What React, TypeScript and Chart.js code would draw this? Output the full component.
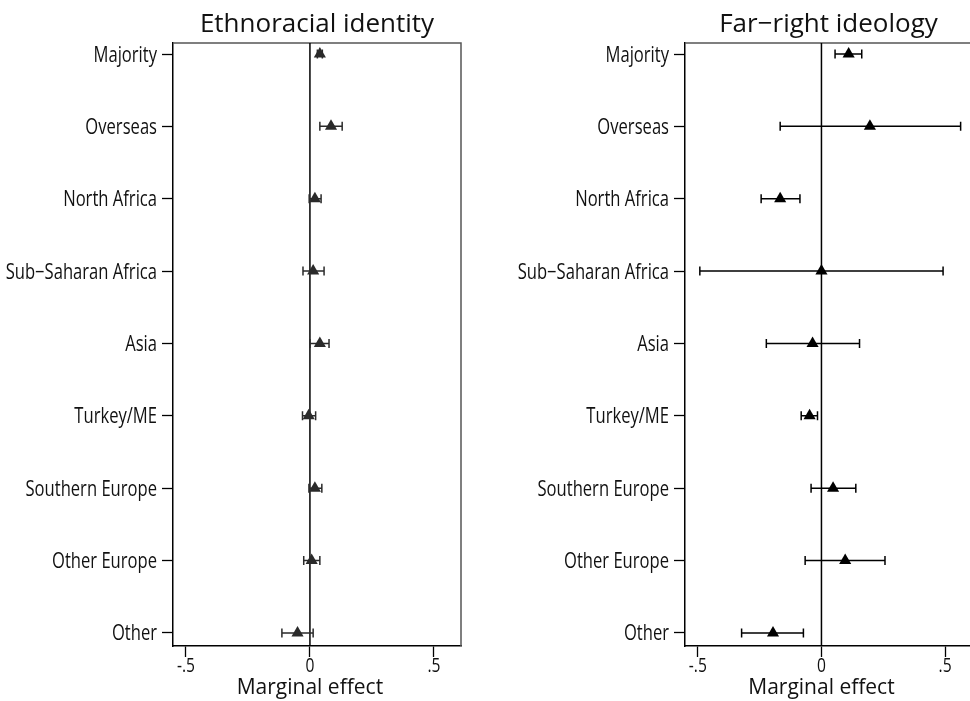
import React, { useEffect, useRef } from "react";
import { Chart, registerables } from "chart.js";

Chart.register(...registerables);

const categories = [
  "Majority",
  "Overseas",
  "North Africa",
  "Sub\u2212Saharan Africa",
  "Asia",
  "Turkey/ME",
  "Southern Europe",
  "Other Europe",
  "Other",
];

const xTickValues = [-0.5, 0, 0.5];
const xTickLabels = ["-.5", "0", ".5"];

// Ethnoracial identity
const ethEst = [0.04, 0.085, 0.02, 0.013, 0.04, -0.005, 0.02, 0.007, -0.05];
const ethLo = [0.03, 0.04, -0.003, -0.028, 0.0, -0.03, -0.004, -0.025, -0.113];
const ethHi = [0.05, 0.13, 0.045, 0.057, 0.077, 0.023, 0.048, 0.04, 0.013];

// Far-right ideology
const farEst = [0.11, 0.196, -0.167, 0.0, -0.036, -0.048, 0.047, 0.096, -0.196];
const farLo = [0.055, -0.167, -0.244, -0.492, -0.223, -0.082, -0.042, -0.066, -0.323];
const farHi = [0.163, 0.563, -0.087, 0.492, 0.154, -0.016, 0.139, 0.257, -0.073];

const X_MIN = -0.552;
const X_MAX = 0.609;
const Y_MIN = -0.152;
const Y_MAX = 8.18;

type PanelProps = {
  title: string;
  est: number[];
  lo: number[];
  hi: number[];
  color: string;
  left: number;
  width: number;
  plotLeft: number;
  plotRight: number;
};

function Panel({ title, est, lo, hi, color, left, width, plotLeft, plotRight }: PanelProps) {
  const ref = useRef<HTMLCanvasElement | null>(null);
  useEffect(() => {
    if (!ref.current) return;
    const H = 701;
    const plotTop = 43;
    const plotBottom = 646;
    const condensed = "'Open Sans', 'DejaVu Sans', sans-serif";

    const drawPlugin = {
      id: "panelDecor",
      beforeDatasetsDraw(chart: any) {
        const { ctx, chartArea, scales } = chart;
        const xs = scales.x;
        const ys = scales.y;
        ctx.save();
        // box top & right
        ctx.strokeStyle = "#555";
        ctx.lineWidth = 1.5;
        ctx.beginPath();
        ctx.moveTo(chartArea.left, chartArea.top);
        ctx.lineTo(chartArea.right, chartArea.top);
        ctx.lineTo(chartArea.right, chartArea.bottom);
        ctx.stroke();
        // zero line
        const x0 = xs.getPixelForValue(0);
        ctx.strokeStyle = "#000";
        ctx.lineWidth = 1.5;
        ctx.beginPath();
        ctx.moveTo(x0, chartArea.top);
        ctx.lineTo(x0, chartArea.bottom);
        ctx.stroke();
        // error bars
        ctx.strokeStyle = color;
        ctx.lineWidth = 1.5;
        for (let i = 0; i < est.length; i++) {
          const y = ys.getPixelForValue(i);
          const a = xs.getPixelForValue(lo[i]);
          const b = xs.getPixelForValue(hi[i]);
          ctx.beginPath();
          ctx.moveTo(a, y);
          ctx.lineTo(b, y);
          ctx.moveTo(a, y - 4.5);
          ctx.lineTo(a, y + 4.5);
          ctx.moveTo(b, y - 4.5);
          ctx.lineTo(b, y + 4.5);
          ctx.stroke();
        }
        ctx.restore();
      },
      afterDraw(chart: any) {
        const { ctx, chartArea, scales } = chart;
        const xs = scales.x;
        const ys = scales.y;
        ctx.save();
        ctx.fillStyle = "#111";
        // y labels (condensed)
        ctx.font = `21px ${condensed}`;
        ctx.textAlign = "right";
        ctx.textBaseline = "alphabetic";
        for (let i = 0; i < categories.length; i++) {
          const y = ys.getPixelForValue(i);
          ctx.save();
          ctx.translate(chartArea.left - 16, y + 7.5);
          ctx.scale(0.79, 1);
          ctx.fillText(categories[i], 0, 0);
          ctx.restore();
        }
        // x tick labels
        ctx.font = `20px ${condensed}`;
        ctx.textAlign = "center";
        for (let i = 0; i < xTickValues.length; i++) {
          const x = xs.getPixelForValue(xTickValues[i]);
          ctx.save();
          ctx.translate(x, 672);
          ctx.scale(0.78, 1);
          ctx.fillText(xTickLabels[i], 0, 0);
          ctx.restore();
        }
        // axis title
        ctx.font = `21px 'Open Sans', sans-serif`;
        ctx.textAlign = "center";
        ctx.fillText("Marginal effect", xs.getPixelForValue(0), 694);
        // title
        ctx.font = `26px 'Open Sans', sans-serif`;
        ctx.fillText(title, (chartArea.left + chartArea.right) / 2, 32);
        ctx.restore();
      },
    };

    const chart = new Chart(ref.current, {
      type: "scatter",
      data: {
        datasets: [
          {
            data: est.map((v, i) => ({ x: v, y: i })),
            pointStyle: "triangle",
            pointRadius: 7,
            pointHoverRadius: 7,
            backgroundColor: color,
            borderColor: color,
            borderWidth: 0,
          },
        ],
      },
      options: {
        responsive: false,
        animation: false,
        events: [],
        layout: { padding: { top: plotTop, right: width - plotRight, bottom: 0, left: 0 } },
        plugins: {
          legend: { display: false },
          tooltip: { enabled: false },
          title: { display: false },
        },
        scales: {
          x: {
            type: "linear",
            min: X_MIN,
            max: X_MAX,
            afterBuildTicks: (s: any) => {
              s.ticks = xTickValues.map((v) => ({ value: v }));
            },
            ticks: { display: false },
            grid: {
              drawOnChartArea: false,
              drawTicks: true,
              tickLength: 11,
              tickColor: "#000",
              tickWidth: 1.3,
            },
            border: { display: true, color: "#000", width: 1.5 },
            afterFit: (s: any) => {
              s.height = H - plotBottom;
            },
          },
          y: {
            type: "linear",
            reverse: true,
            min: Y_MIN,
            max: Y_MAX,
            afterBuildTicks: (s: any) => {
              s.ticks = categories.map((_, i) => ({ value: i }));
            },
            ticks: { display: false },
            grid: {
              drawOnChartArea: false,
              drawTicks: true,
              tickLength: 11,
              tickColor: "#000",
              tickWidth: 1.3,
            },
            border: { display: true, color: "#000", width: 1.5 },
            afterFit: (s: any) => {
              s.width = plotLeft;
            },
          },
        },
      } as any,
      plugins: [drawPlugin],
    });
    return () => chart.destroy();
  }, []);
  return (
    <canvas
      ref={ref}
      width={width}
      height={701}
      style={{ position: "absolute", left, top: 0, width, height: 701 }}
    />
  );
}

export default function App() {
  return (
    <div
      style={{
        position: "absolute",
        left: 0,
        top: 0,
        width: 970,
        height: 701,
        overflow: "hidden",
        background: "#fff",
      }}
    >
      <Panel
        title="Ethnoracial identity"
        est={ethEst}
        lo={ethLo}
        hi={ethHi}
        color="#2a2a2a"
        left={0}
        width={490}
        plotLeft={173}
        plotRight={461}
      />
      <Panel
        title={"Far\u2212right ideology"}
        est={farEst}
        lo={farLo}
        hi={farHi}
        color="#000"
        left={490}
        width={510}
        plotLeft={195}
        plotRight={482}
      />
    </div>
  );
}
